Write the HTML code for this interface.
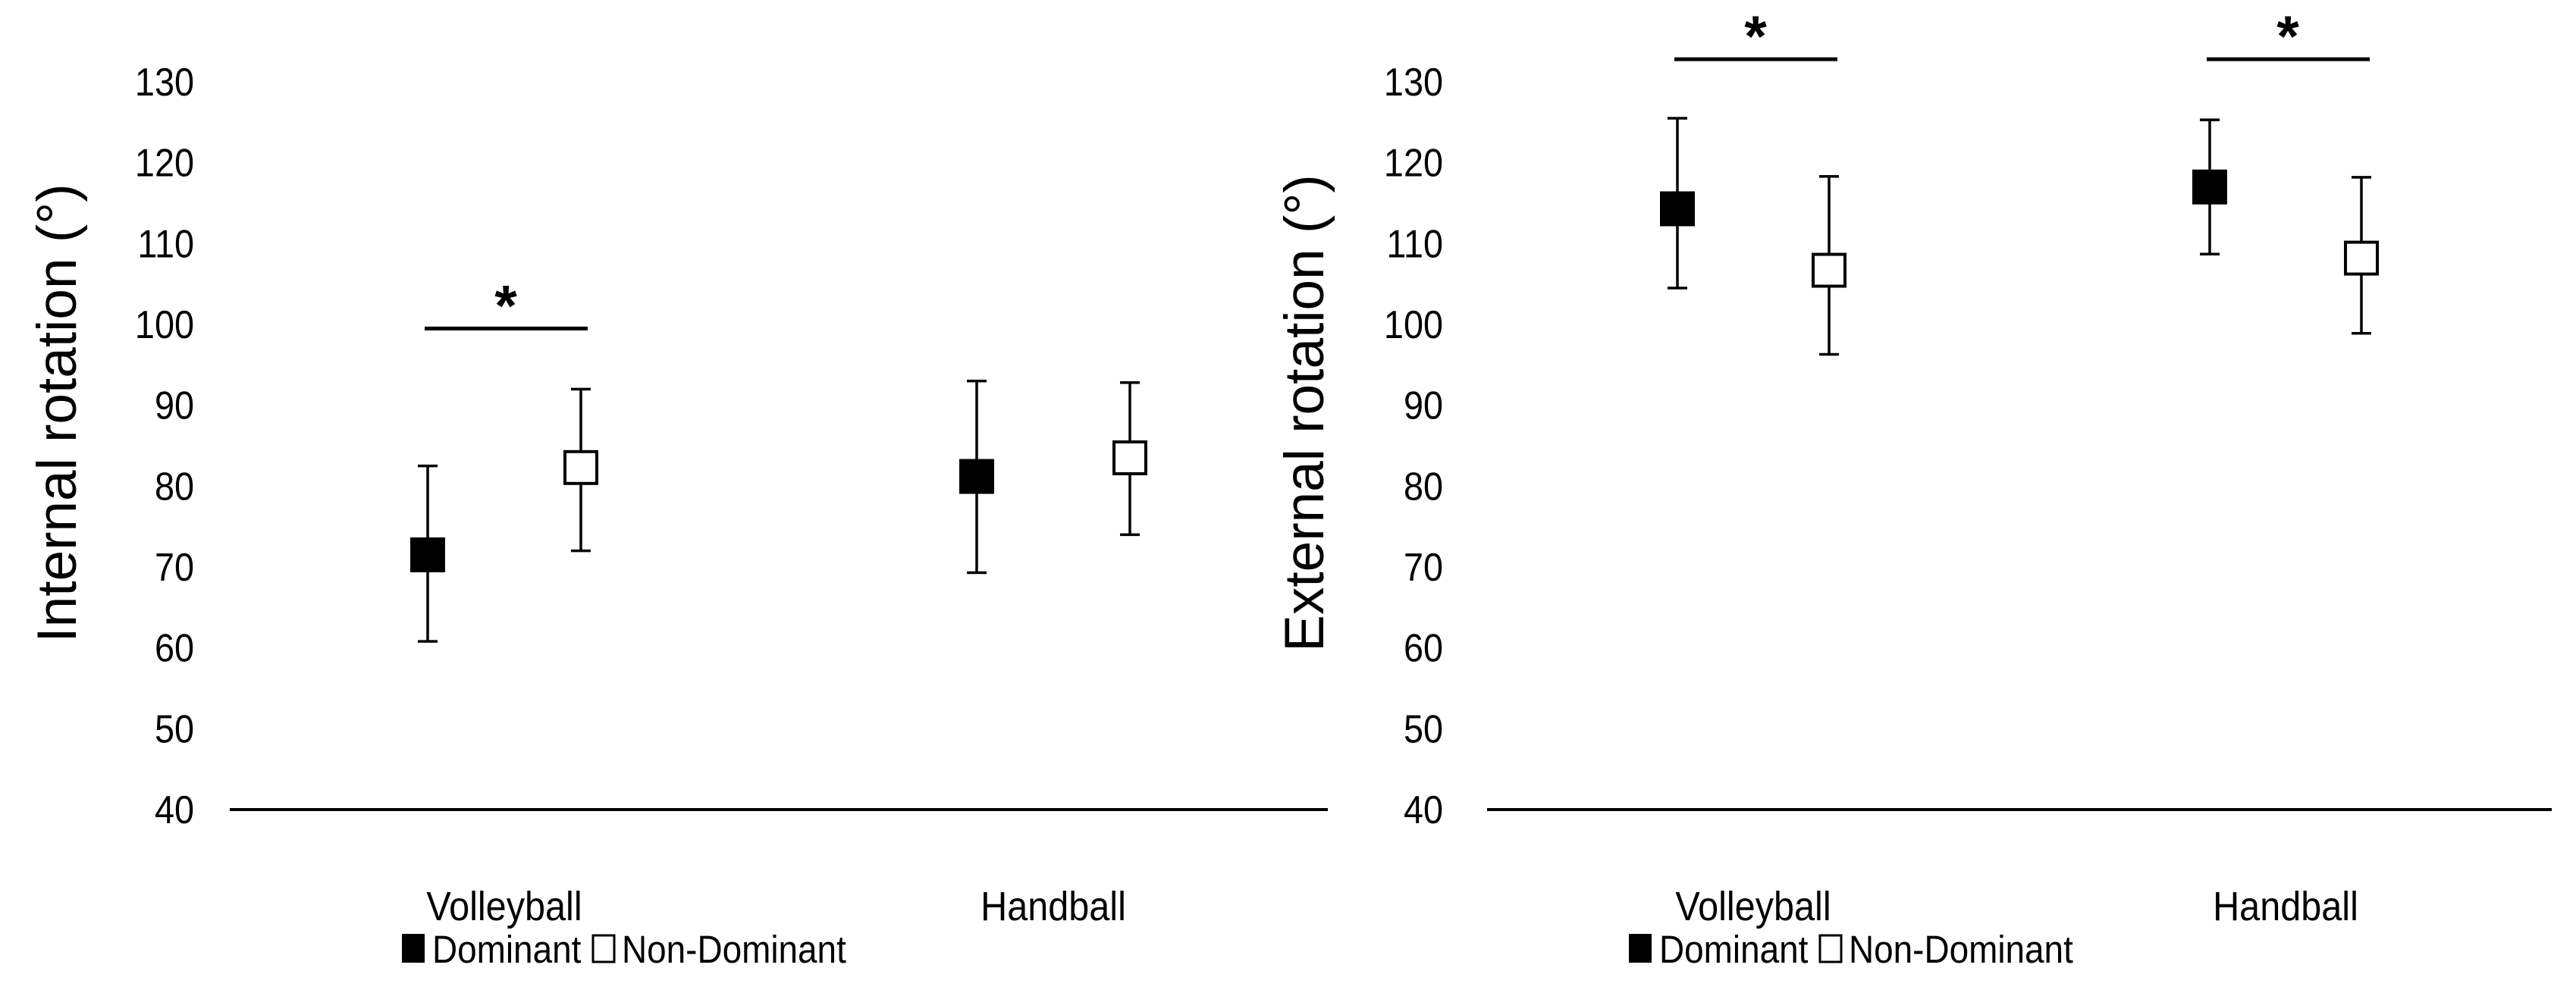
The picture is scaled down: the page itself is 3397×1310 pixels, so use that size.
<!DOCTYPE html>
<html><head><meta charset="utf-8"><style>
body{margin:0;background:#fff;}
svg{display:block;font-family:"Liberation Sans",Arial,sans-serif;}
</style></head><body>
<svg id="chart" width="3397" height="1310" viewBox="0 0 3397 1310" xmlns="http://www.w3.org/2000/svg"></svg>
<script>
const ticks = [40,50,60,70,80,90,100,110,120,130];
const categories = ["Volleyball","Handball"];
const intDom = [71.5, 81.2];
const intDomLo = [60.8, 69.3];
const intDomHi = [82.5, 93.0];
const intNon = [82.3, 83.5];
const intNonLo = [72.0, 74.0];
const intNonHi = [92.0, 92.8];
const extDom = [114.3, 117.0];
const extDomLo = [104.5, 108.7];
const extDomHi = [125.5, 125.3];
const extNon = [106.7, 108.2];
const extNonLo = [96.3, 98.9];
const extNonHi = [118.3, 118.2];
const intSig = [99.5, null];
const extSig = [132.8, 132.8];

const NS="http://www.w3.org/2000/svg";
const svg=document.getElementById('chart');
function mk(tag,attrs,parent){const e=document.createElementNS(NS,tag);for(const k in attrs)e.setAttribute(k,attrs[k]);(parent||svg).appendChild(e);return e;}

function panel(cfg){
  const g=mk('g',{});
  
  
  const y=v=>1068-(v-40)*(960/90);
  ticks.forEach(t=>{
    const tx=mk('text',{x:cfg.tickX,y:y(t)+18,'text-anchor':'end','font-size':52,fill:'#000',transform:`translate(${cfg.tickX*0.1},0) scale(0.9,1)`},g);
    tx.textContent=t;
    
    
  });
  const ax=mk('line',{x1:cfg.x0,x2:cfg.x1,y1:y(40),y2:y(40),stroke:'#000','stroke-width':4},g);
  
  
  const tt=mk('text',{x:0,y:0,'font-size':73,'text-anchor':'middle',transform:`translate(${cfg.titleX},545) rotate(-90)`},g);
  tt.textContent=cfg.title;
  
  
  const catW=(cfg.x1-cfg.x0)/2;
  categories.forEach((c,i)=>{
    const cx=cfg.x0+catW*(i+0.5);
    const cl=mk('text',{x:cx/0.9,y:1214,'text-anchor':'middle','font-size':54,transform:'scale(0.9,1)'},g);
    cl.textContent=c;
    
    
    const series=[[cfg.dom,cfg.domLo,cfg.domHi,cx-cfg.off,'#000','dominant'],[cfg.non,cfg.nonLo,cfg.nonHi,cx+cfg.off,'#fff','non-dominant']];
    series.forEach(s=>{
      const px=s[3];
      const eb=mk('g',{},g);
      
      
      mk('line',{x1:px,x2:px,y1:y(s[2][i]),y2:y(s[1][i]),stroke:'#000','stroke-width':3.5},eb);
      mk('line',{x1:px-13,x2:px+13,y1:y(s[2][i]),y2:y(s[2][i]),stroke:'#000','stroke-width':3.5},eb);
      mk('line',{x1:px-13,x2:px+13,y1:y(s[1][i]),y2:y(s[1][i]),stroke:'#000','stroke-width':3.5},eb);
      const m=mk('rect',{x:px-21,y:y(s[0][i])-21,width:42,height:42,fill:s[4],stroke:'#000','stroke-width':4},g);
      
      
    });
    const sv=cfg.sig[i];
    if(sv!==null){
      const sl=mk('line',{x1:cx-cfg.off-4,x2:cx-cfg.off+211,y1:y(sv),y2:y(sv),stroke:'#000','stroke-width':5},g);
      
      
      const st=mk('text',{x:cx-cfg.off+103,y:y(sv)-4,'text-anchor':'middle','font-size':76,'font-weight':'bold'},g);
      st.textContent='*';
      
      
    }
  });
  const lg=mk('g',{},g);
  
  
  mk('rect',{x:cfg.legX,y:1232,width:30,height:38,fill:'#000'},lg);
  const l1=mk('text',{x:(cfg.legX+40)/0.9,y:1270,'font-size':51,transform:'scale(0.9,1)'},lg);l1.textContent='Dominant';
  
  
  mk('rect',{x:cfg.legX+252,y:1234,width:28,height:35,fill:'#fff',stroke:'#000','stroke-width':3},lg);
  const l2=mk('text',{x:(cfg.legX+290)/0.9,y:1270,'font-size':51,transform:'scale(0.9,1)'},lg);l2.textContent='Non-Dominant';
  
  
}
panel({name:'internal-rotation-panel',title:'Internal rotation (°)',tickX:256,titleX:100,x0:303,x1:1751,off:101,
  dom:intDom,domLo:intDomLo,domHi:intDomHi,non:intNon,nonLo:intNonLo,nonHi:intNonHi,sig:intSig,legX:530});
panel({name:'external-rotation-panel',title:'External rotation (°)',tickX:1903,titleX:1745,x0:1961,x1:3365,off:100,
  dom:extDom,domLo:extDomLo,domHi:extDomHi,non:extNon,nonLo:extNonLo,nonHi:extNonHi,sig:extSig,legX:2148});
</script>
</body></html>
